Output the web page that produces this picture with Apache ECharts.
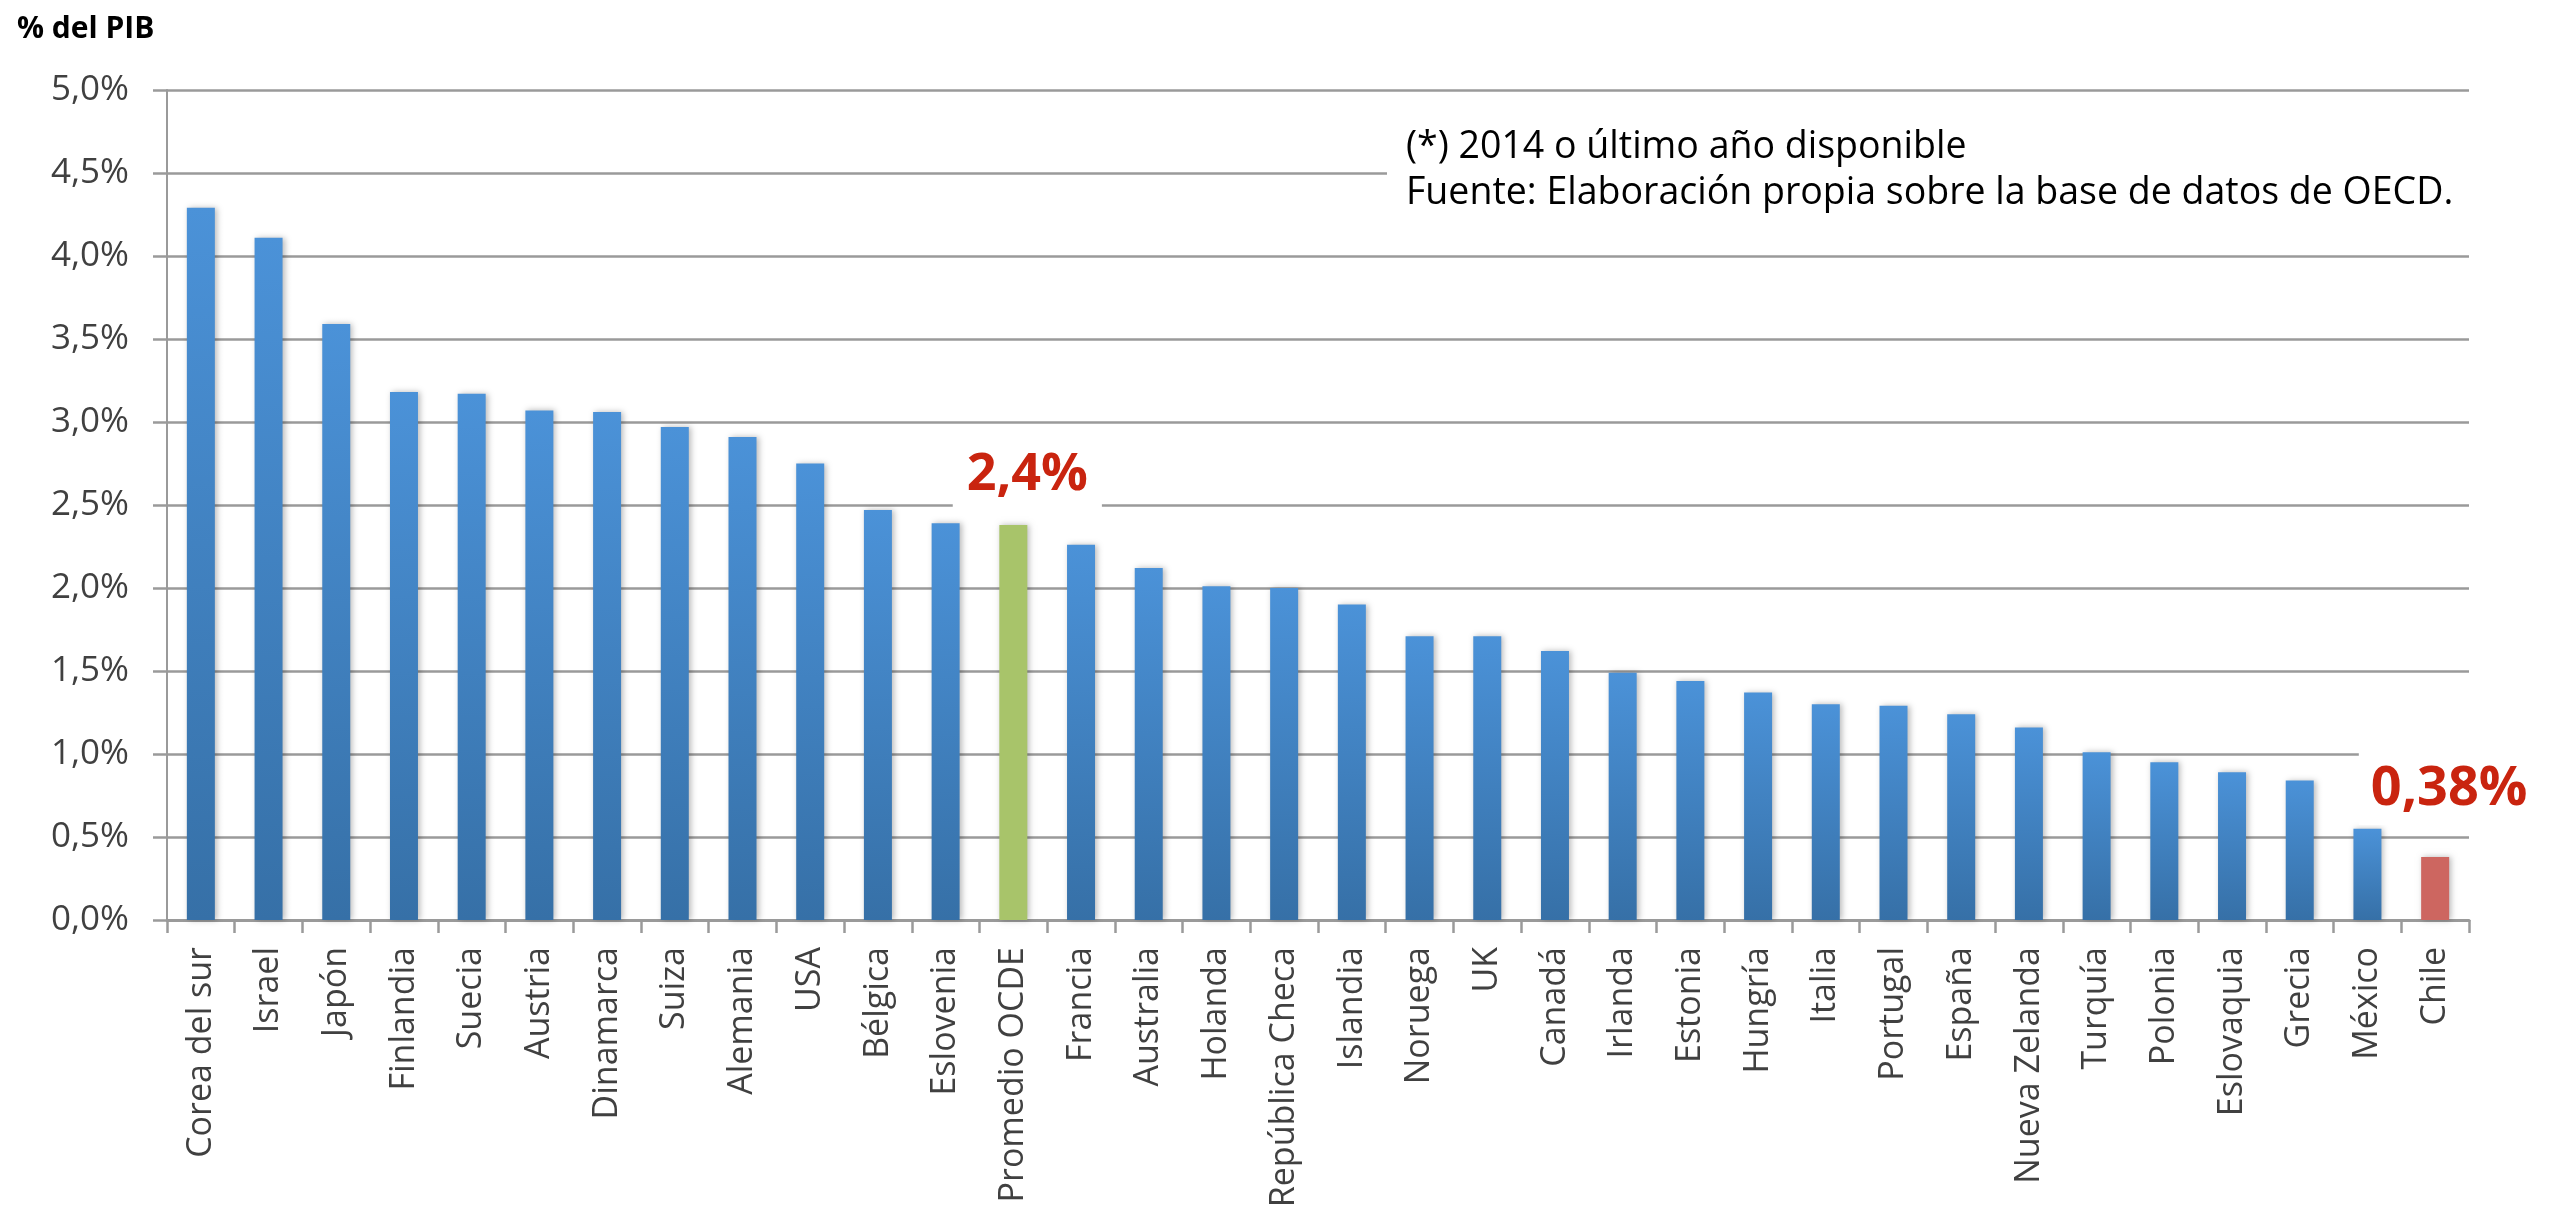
<!DOCTYPE html>
<html>
<head>
<meta charset="utf-8">
<script src="https://cdn.jsdelivr.net/npm/echarts@6/dist/echarts.min.js"></script>
<style>
html,body{margin:0;padding:0;background:#fff;}
#chart{width:2561px;height:1213px;}
</style>
</head>
<body>
<div id="chart"></div>
<script>
const categories = ['Corea del sur','Israel','Japón','Finlandia','Suecia','Austria','Dinamarca','Suiza','Alemania','USA','Bélgica','Eslovenia','Promedio OCDE','Francia','Australia','Holanda','República Checa','Islandia','Noruega','UK','Canadá','Irlanda','Estonia','Hungría','Italia','Portugal','España','Nueva Zelanda','Turquía','Polonia','Eslovaquia','Grecia','México','Chile'];
const values = [4.29,4.11,3.59,3.18,3.17,3.07,3.06,2.97,2.91,2.75,2.47,2.39,2.38,2.26,2.12,2.01,2.00,1.90,1.71,1.71,1.62,1.49,1.44,1.37,1.30,1.29,1.24,1.16,1.01,0.95,0.89,0.84,0.55,0.38];
const yTicks = [0,0.5,1,1.5,2,2.5,3,3.5,4,4.5,5];
const calloutCategories = ['Promedio OCDE','Chile'];
const calloutTexts = ['2,4%','0,38%'];
const noteLines = ['(*) 2014 o último año disponible','Fuente: Elaboración propia sobre la base de datos de OECD.'];
const yAxisTitle = '% del PIB';

const blueGrad = new echarts.graphic.LinearGradient(0,0,0,1,[{offset:0,color:'#4b92d8'},{offset:1,color:'#3670a7'}]);
const shadow = {shadowColor:'rgba(0,0,0,0.28)',shadowBlur:6,shadowOffsetX:2,shadowOffsetY:0};

const labelStyles = {
  'Promedio OCDE': {distance:12, offset:[14,0], fontSize:52, lineHeight:52, padding:[12,14,12,14]},
  'Chile': {distance:32, offset:[14,0], fontSize:54, lineHeight:54, padding:[16,12,8,12]}
};
const itemColors = {'Promedio OCDE':'#a8c46a','Chile':'#cd6660'};

const data = categories.map((c,i)=>{
  const item = {value: values[i], itemStyle: Object.assign({color: itemColors[c] || blueGrad}, shadow)};
  const k = calloutCategories.indexOf(c);
  if (k >= 0) {
    const ls = labelStyles[c];
    item.label = {
      show:true, position:'top', formatter: calloutTexts[k],
      distance: ls.distance, offset: ls.offset,
      fontFamily:'Open Sans', fontWeight:'bold', fontSize: ls.fontSize, lineHeight: ls.lineHeight,
      color:'#c9240f', backgroundColor:'#ffffff', padding: ls.padding
    };
  }
  return item;
});

const chart = echarts.init(document.getElementById('chart'));
chart.setOption({
  animation:false,
  backgroundColor:'#ffffff',
  grid:{left:167,right:92,top:90,bottom:293,containLabel:false},
  xAxis:{
    type:'category', data:categories,
    axisLine:{show:true,lineStyle:{color:'#9a9a9a',width:3}},
    axisTick:{show:true,length:13,lineStyle:{color:'#9a9a9a',width:2.5}},
    axisLabel:{rotate:90,interval:0,margin:27,fontFamily:'Open Sans',fontSize:34,color:'#404040'}
  },
  yAxis:{
    type:'value', min:yTicks[0], max:yTicks[yTicks.length-1], interval:yTicks[1]-yTicks[0],
    axisLine:{show:true,lineStyle:{color:'#9a9a9a',width:2}},
    axisTick:{show:true,length:14,lineStyle:{color:'#9a9a9a',width:2.5}},
    splitLine:{show:true,lineStyle:{color:'#9a9a9a',width:2.5}},
    axisLabel:{margin:38,fontFamily:'Open Sans',fontSize:35,color:'#404040',
      formatter:v=>v.toFixed(1).replace('.',',')+'%'}
  },
  series:[{type:'bar',data:data,barWidth:28}],
  graphic:[
    {type:'text',left:17,top:14,style:{text:yAxisTitle,fontFamily:'Open Sans',fontWeight:'bold',fontSize:30,fill:'#000'}},
    {type:'rect',left:1387,top:112,shape:{width:1100,height:112},style:{fill:'#ffffff'},z:50},
    {type:'text',left:1406,top:124,z:51,style:{text:noteLines.join('\n'),fontFamily:'Open Sans',fontSize:37.5,lineHeight:46,fill:'#000'}}
  ]
});
</script>
</body>
</html>
